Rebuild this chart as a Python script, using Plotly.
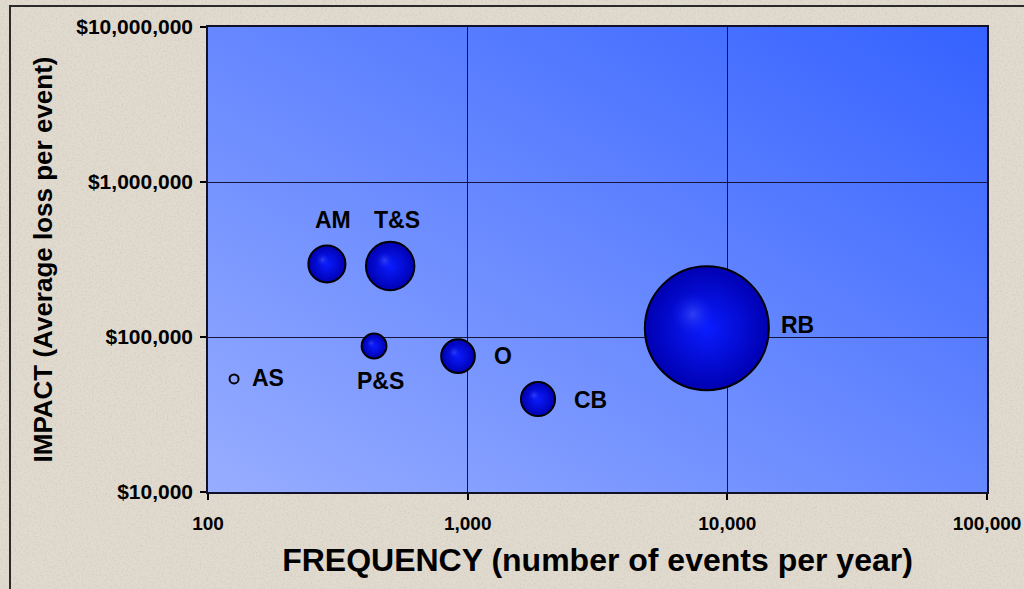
import base64
import math
import plotly.graph_objects as go

# ---- data ----
categories = ["AS", "AM", "T&S", "P&S", "O", "CB", "RB"]
frequency = [126, 287, 503, 436, 918, 1866, 8340]              # events per year
impact = [53600, 296000, 287000, 87500, 75300, 39800, 114000]  # average loss per event ($)
annual_loss_m = [5, 85, 145, 38, 70, 72, 950]                  # bubble size ($M per year)

x_tickvals = [100, 1000, 10000, 100000]
x_ticktext = ["100", "1,000", "10,000", "100,000"]
y_tickvals = [10000, 100000, 1000000, 10000000]
y_ticktext = ["$10,000", "$100,000", "$1,000,000", "$10,000,000"]

# ---- styling ----
W, H = 1024, 589
ML, MR, MT, MB = 208, 37, 27, 97
PW, PH = W - ML - MR, H - MT - MB
MAX_D = 124
sizeref = 2.0 * max(annual_loss_m) / (MAX_D ** 2)

# label offsets (px from bubble centre) and anchors
label_dx = [16, 6, 7, 6, 34, 34, 72]
label_dy = [1, 44, 46, -35, 0, -1, 3]
label_anchor = ["left", "center", "center", "center", "left", "left", "left"]

edge_colors = ["rgba(0,0,0,0)"] + ["#0000B2"] * 6
center_colors = ["rgba(0,0,0,0)"] + ["#0A1CFF"] * 6

FONT = "Arial, Liberation Sans, sans-serif"

fig = go.Figure()

fig.add_trace(go.Scatter(
    x=frequency, y=impact, mode="markers",
    marker=dict(
        size=annual_loss_m, sizemode="area", sizeref=sizeref,
        color=edge_colors,
        gradient=dict(type="radial", color=center_colors),
        line=dict(color="black", width=2),
        opacity=1,
    ),
    hoverinfo="text", text=categories, showlegend=False,
))

# highlight spots (offset up-left within each bubble)
diam = [(v / sizeref) ** 0.5 for v in annual_loss_m]
hx, hy, hs = [], [], []
for f, im, d in zip(frequency[1:], impact[1:], diam[1:]):
    off = 0.16 * d
    hx.append(f * 10 ** (-off / (PW / 3)))
    hy.append(im * 10 ** (off / (PH / 3)))
    hs.append(0.5 * d)
fig.add_trace(go.Scatter(
    x=hx, y=hy, mode="markers",
    marker=dict(size=hs, color="rgba(20,36,255,0)",
                gradient=dict(type="radial", color="rgba(90,110,255,0.7)"),
                line=dict(width=0)),
    hoverinfo="skip", showlegend=False,
))

for c, f, im, dx, dy, anc in zip(categories, frequency, impact, label_dx, label_dy, label_anchor):
    fig.add_annotation(x=math.log10(f), y=math.log10(im), xref="x", yref="y",
                       text=c.replace("&", "&amp;"), showarrow=False,
                       xanchor=anc, yanchor="middle", xshift=dx, yshift=dy,
                       font=dict(family=FONT, size=23, color="black", weight="bold"))

# background images
paper_svg = f"""<svg xmlns='http://www.w3.org/2000/svg' width='{W}' height='{H}' viewBox='0 0 {W} {H}'>
<filter id='n'><feTurbulence type='fractalNoise' baseFrequency='0.55' numOctaves='3' seed='4'/>
<feColorMatrix type='matrix' values='0 0 0 0 0.55  0 0 0 0 0.50  0 0 0 0 0.43  1.6 0 0 0 -0.72'/></filter>
<rect width='{W}' height='{H}' fill='#E1DACF'/>
<rect width='{W}' height='{H}' filter='url(#n)' opacity='0.6'/>
</svg>"""
plot_svg = """<svg xmlns='http://www.w3.org/2000/svg' width='779' height='465' viewBox='0 0 779 465' preserveAspectRatio='none'>
<defs><linearGradient id='g' x1='0' y1='1' x2='1' y2='0'>
<stop offset='0' stop-color='#97ADFF'/><stop offset='1' stop-color='#3562FF'/></linearGradient></defs>
<rect width='779' height='465' fill='url(#g)'/></svg>"""

def uri(s):
    return "data:image/svg+xml;base64," + base64.b64encode(s.encode()).decode()

fig.add_layout_image(dict(source=uri(paper_svg), xref="paper", yref="paper",
                          x=-ML / PW, y=1 + MT / PH, sizex=W / PW, sizey=H / PH,
                          xanchor="left", yanchor="top", sizing="stretch", layer="below"))
fig.add_layout_image(dict(source=uri(plot_svg), xref="paper", yref="paper",
                          x=0, y=1, sizex=1, sizey=1,
                          xanchor="left", yanchor="top", sizing="stretch", layer="below"))

# outer frame
fig.add_shape(type="rect", xref="paper", yref="paper",
              x0=(10 - ML) / PW, x1=(1040 - ML) / PW,
              y0=(PH + MT - 600) / PH, y1=(PH + MT - 6) / PH,
              line=dict(color="#2A2A2A", width=2), fillcolor="rgba(0,0,0,0)", layer="below")

axis_common = dict(type="log", showgrid=True, gridcolor="#14143C", gridwidth=1,
                   showline=True, linecolor="#101028", linewidth=1.5, mirror=True,
                   ticks="outside", ticklen=6, tickcolor="black", tickwidth=1.5,
                   zeroline=False)

fig.update_xaxes(**axis_common, range=[2, 5], tickvals=x_tickvals, ticktext=x_ticktext,
                 ticklabelstandoff=7,
                 tickfont=dict(family=FONT, size=19, color="black", weight="bold"),
                 title=dict(text="FREQUENCY (number of events per year)", standoff=16,
                            font=dict(family=FONT, size=32, color="black", weight="bold")))
fig.update_yaxes(**axis_common, range=[4, 7], tickvals=y_tickvals, ticktext=y_ticktext,
                 ticklabelstandoff=3,
                 tickfont=dict(family=FONT, size=21, color="black", weight="bold"),
                 title=dict(text="IMPACT (Average loss per event)", standoff=16,
                            font=dict(family=FONT, size=26, color="black", weight="bold")))

fig.update_layout(width=W, height=H, margin=dict(l=ML, r=MR, t=MT, b=MB, autoexpand=False),
                  paper_bgcolor="#E1DACF", plot_bgcolor="rgba(0,0,0,0)",
                  showlegend=False)

fig.write_html("out.html", config={"displayModeBar": False},
               post_script="document.body.style.margin='0';document.body.style.overflow='hidden';")
